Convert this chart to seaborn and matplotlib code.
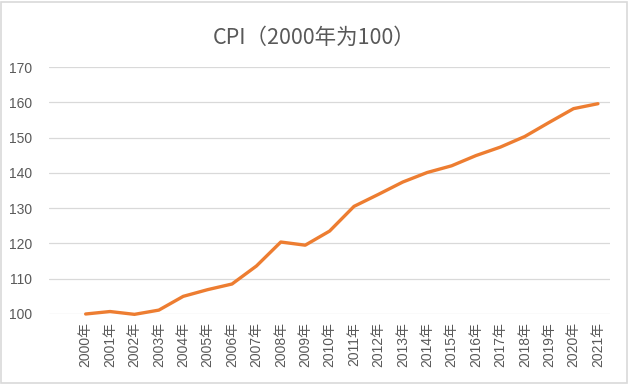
import numpy as np
import pandas as pd
import matplotlib
matplotlib.use("Agg")
import matplotlib.pyplot as plt
import seaborn as sns
from matplotlib.patches import Rectangle

# 数据
years = [f"{y}年" for y in range(2000, 2022)]
cpi = [100.0, 100.7, 99.9, 101.1, 105.0, 106.9, 108.5, 113.6, 120.4, 119.5, 123.5,
       130.5, 133.9, 137.4, 140.1, 142.0, 144.9, 147.3, 150.3, 154.3, 158.2, 159.6]
y_ticks = [100, 110, 120, 130, 140, 150, 160, 170]

sns.set_theme(style="white")
plt.rcParams['font.family'] = ['Liberation Sans', 'Noto Sans CJK SC', 'DejaVu Sans']
plt.rcParams['axes.unicode_minus'] = False

GRAY = "#595959"
df = pd.DataFrame({"year": years, "cpi": cpi, "pos": np.arange(len(years))})

fig = plt.figure(figsize=(6.29, 3.84), dpi=100)
ax = fig.add_axes([0.078, 0.1823, 0.892, 0.6432])

sns.lineplot(data=df, x="pos", y="cpi", ax=ax, color="#ED7D31", linewidth=2.4,
             clip_on=False, zorder=3)

ax.set_xlim(-1.5, 21.5)
ax.set_ylim(100, 170)
ax.set_yticks(y_ticks)
ax.set_yticklabels([str(v) for v in y_ticks], fontsize=10, color=GRAY)
ax.set_xticks(df["pos"])
ax.set_xticklabels(years, rotation=90, fontsize=10, color=GRAY)
ax.tick_params(axis='both', length=0)
ax.tick_params(axis='x', pad=6)
ax.tick_params(axis='y', pad=12)
ax.grid(axis='y', color="#D9D9D9", linewidth=0.9)
for s in ax.spines.values():
    s.set_visible(False)
ax.set_xlabel("")
ax.set_ylabel("")

fig.text(0.5, 0.90, "CPI（2000年为100）", ha='center', va='center', fontsize=15.5,
         color=GRAY, family=['Noto Sans CJK SC', 'DejaVu Sans'])

# 图表外框
fig.patches.append(Rectangle((0.002, 0.003), 0.995, 0.993, transform=fig.transFigure,
                             fill=False, edgecolor="#D9D9D9", linewidth=1.2))

fig.savefig("out.png", dpi=100)
